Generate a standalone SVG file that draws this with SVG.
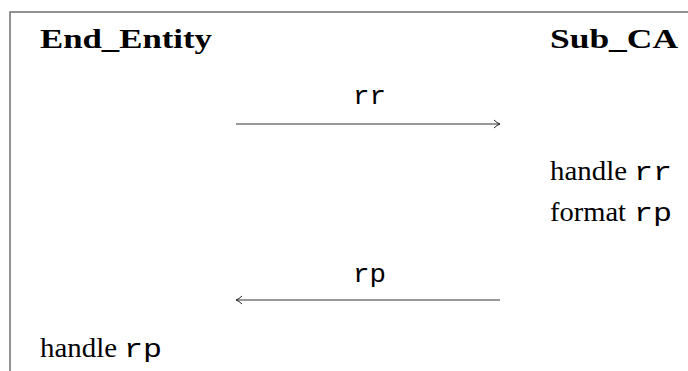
<svg xmlns="http://www.w3.org/2000/svg" width="688" height="371" viewBox="0 0 688 371">
<style>
.frame{stroke:#6e6e6e;stroke-width:1.5;fill:none}
.hd{font-family:"Liberation Serif",serif;font-weight:bold;font-size:28px;fill:#000}
.tx{font-family:"Liberation Serif",serif;font-size:27px;fill:#000}
.tt{font-family:"Liberation Mono",monospace;font-size:25px;fill:#000}
.conn{stroke:#333;stroke-width:1}
</style>
<defs>
<marker id="ah" viewBox="0 0 8 10" refX="7" refY="5" markerWidth="8" markerHeight="10" markerUnits="userSpaceOnUse" orient="auto">
<path d="M1,1 Q4,4 7,5 Q4,6 1,9" fill="none" stroke="#222" stroke-width="1"/>
</marker>
</defs>
<rect width="688" height="371" fill="#fff"/>
<path class="frame" d="M10,371 V12 H688"/>
<g id="end_entity">
<text class="hd" x="40" y="48" textLength="172" lengthAdjust="spacingAndGlyphs">End_Entity</text>
<text class="tx" x="40" y="357" textLength="77" lengthAdjust="spacingAndGlyphs">handle</text>
<text class="tt" x="124" y="357" textLength="38" lengthAdjust="spacingAndGlyphs">rp</text>
</g>
<g id="sub_ca">
<text class="hd" x="550" y="48" textLength="128" lengthAdjust="spacingAndGlyphs">Sub_CA</text>
<text class="tx" x="550" y="180" textLength="77" lengthAdjust="spacingAndGlyphs">handle</text>
<text class="tt" x="634" y="180" textLength="38" lengthAdjust="spacingAndGlyphs">rr</text>
<text class="tx" x="550" y="221" textLength="76" lengthAdjust="spacingAndGlyphs">format</text>
<text class="tt" x="634" y="221" textLength="38" lengthAdjust="spacingAndGlyphs">rp</text>
</g>
<g id="connectors">
<line class="conn" x1="236" y1="124" x2="500" y2="124" marker-end="url(#ah)"/>
<text class="tt" x="353" y="104" textLength="33" lengthAdjust="spacingAndGlyphs">rr</text>
<line class="conn" x1="500" y1="300" x2="236" y2="300" marker-end="url(#ah)"/>
<text class="tt" x="353" y="282" textLength="33" lengthAdjust="spacingAndGlyphs">rp</text>
</g>
</svg>
